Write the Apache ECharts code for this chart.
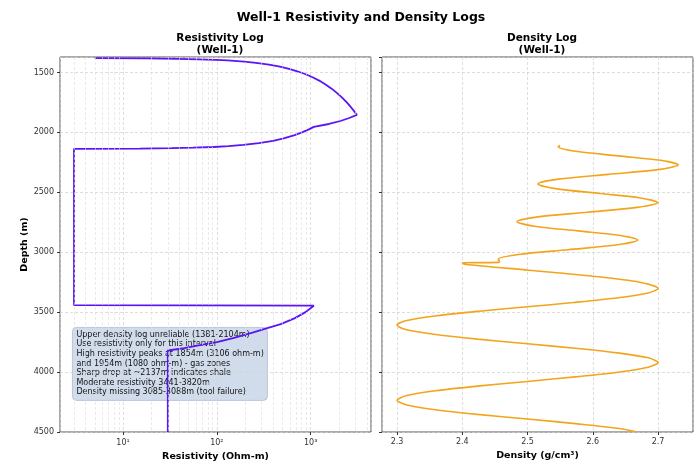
<!DOCTYPE html>
<html>
<head>
<meta charset="utf-8">
<script src="https://cdn.jsdelivr.net/npm/echarts@6/dist/echarts.min.js"></script>
<style>
  html, body { margin: 0; padding: 0; background: #fff; }
  #chart { width: 700px; height: 461px; }
</style>
</head>
<body>
<div id="chart"></div>
<script>
// resistivity log (ohm-m) vs depth (m)
const resDepth = [1381, 1383, 1386, 1390, 1395, 1400, 1410, 1420, 1435, 1450, 1470, 1490, 1515, 1540, 1570, 1600, 1635, 1670, 1710, 1750, 1790, 1825, 1854,
  1880, 1905, 1930, 1954,
  1975, 2000, 2025, 2050, 2070, 2090, 2105, 2115, 2122, 2128, 2132, 2135, 2137,
  3441, 3446, 3500, 3550, 3600, 3633, 3670, 3717, 3750, 3776, 3800, 3820, 4500];
const resValue = [5, 18, 38, 64, 97, 130, 195, 261, 359, 457, 588, 720, 884, 1048, 1245, 1441, 1671, 1900, 2163, 2425, 2687, 2917, 3106,
  2579, 2072, 1566, 1080,
  956, 809, 662, 515, 397, 280, 191, 133, 92, 56, 33, 15, 3,
  3, 1080, 880, 680, 480, 344, 240, 149, 100, 66, 45, 30, 30];

// density log (g/cm3) vs depth (m)
const densDepth = [2110, 2120, 2158, 2196, 2233, 2271, 2311, 2350, 2390, 2430, 2469, 2508, 2547, 2586,
  2626, 2666, 2705, 2745, 2783, 2822, 2860, 2898, 2938, 2979, 3019, 3059, 3075, 3085, 3088,
  3100, 3150, 3200, 3250, 3302, 3340, 3380, 3420, 3455, 3490, 3530, 3570, 3608,
  3647, 3686, 3725, 3764, 3803, 3842, 3881, 3920, 3959, 3999, 4038, 4078, 4117, 4156, 4196, 4235,
  4274, 4314, 4353, 4392, 4432, 4471, 4500];
const densValue = [2.550, 2.547, 2.574, 2.639, 2.704, 2.731, 2.700, 2.624, 2.547, 2.516, 2.543, 2.608, 2.673, 2.700,
  2.668, 2.592, 2.516, 2.484, 2.511, 2.577, 2.642, 2.669, 2.638, 2.562, 2.486, 2.455, 2.457, 2.455, 2.400,
  2.404, 2.502, 2.600, 2.672, 2.700, 2.685, 2.639, 2.570, 2.500, 2.430, 2.361, 2.315, 2.300,
  2.315, 2.359, 2.423, 2.500, 2.577, 2.641, 2.685, 2.700, 2.685, 2.641, 2.577, 2.500, 2.423, 2.359, 2.315, 2.300,
  2.315, 2.359, 2.423, 2.500, 2.577, 2.641, 2.668];

// minor log gridlines (2..9 x 10^n)
const resMinorTicks = [3, 4, 5, 6, 7, 8, 9, 20, 30, 40, 50, 60, 70, 80, 90, 200, 300, 400, 500, 600, 700, 800, 900, 2000, 3000, 4000];
const supDigits = { 0: '⁰', 1: '¹', 2: '²', 3: '³', 4: '⁴' };

const notes = [
  'Upper density log unreliable (1381-2104m)',
  'Use resistivity only for this interval',
  'High resistivity peaks at 1854m (3106 ohm-m)',
  'and 1954m (1080 ohm-m) - gas zones',
  'Sharp drop at ~2137m indicates shale',
  'Moderate resistivity 3441-3820m',
  'Density missing 3085-3088m (tool failure)'
];

const font = 'DejaVu Sans';
const gridLine = { show: true, lineStyle: { color: '#d0d0d0', type: [3, 2], width: 0.7 } };
const tickLabel = { fontFamily: font, fontSize: 8, color: '#333' };

const chart = echarts.init(document.getElementById('chart'));
chart.setOption({
  animation: false,
  backgroundColor: '#fff',
  title: [
    { text: 'Well-1 Resistivity and Density Logs', left: 356, top: 6, textAlign: 'center',
      textStyle: { fontFamily: font, fontSize: 12.5, fontWeight: 'bold', color: '#000' } },
    { text: 'Resistivity Log\n(Well-1)', left: 215, top: 27, textAlign: 'center',
      textStyle: { fontFamily: font, fontSize: 10.5, fontWeight: 'bold', color: '#000', lineHeight: 12.5 } },
    { text: 'Density Log\n(Well-1)', left: 537, top: 27, textAlign: 'center',
      textStyle: { fontFamily: font, fontSize: 10.5, fontWeight: 'bold', color: '#000', lineHeight: 12.5 } }
  ],
  grid: [
    { left: 60, top: 57, width: 311, height: 375, show: true, borderColor: '#555', borderWidth: 1, outerBoundsMode: 'none' },
    { left: 382, top: 57, width: 311, height: 375, show: true, borderColor: '#555', borderWidth: 1, outerBoundsMode: 'none' }
  ],
  xAxis: [
    {
      type: 'log', gridIndex: 0, min: 2.127, max: 4395, splitNumber: 3,
      name: 'Resistivity (Ohm-m)', nameLocation: 'middle', nameGap: 18,
      nameTextStyle: { fontFamily: font, fontSize: 9.5, fontWeight: 'bold', color: '#000' },
      axisLine: { show: false },
      axisTick: { show: true, length: 3, lineStyle: { color: '#333' } },
      axisLabel: Object.assign({}, tickLabel, {
        showMinLabel: false, showMaxLabel: false, margin: 7,
        formatter: function (v) {
          const e = Math.round(Math.log10(v));
          if (Math.abs(Math.log10(v) - e) > 1e-6) return '';
          return '10' + supDigits[e];
        }
      }),
      splitLine: gridLine
    },
    {
      type: 'value', gridIndex: 1, min: 2.277, max: 2.7536, splitNumber: 5,
      name: 'Density (g/cm³)', nameLocation: 'middle', nameGap: 16,
      nameTextStyle: { fontFamily: font, fontSize: 9.5, fontWeight: 'bold', color: '#000' },
      axisLine: { show: false },
      axisTick: { show: true, length: 3, lineStyle: { color: '#333' } },
      axisLabel: Object.assign({}, tickLabel, {
        showMinLabel: false, showMaxLabel: false, margin: 6,
        formatter: function (v) { return v.toFixed(1); }
      }),
      splitLine: gridLine
    }
  ],
  yAxis: [
    {
      type: 'value', gridIndex: 0, inverse: true, min: 1371, max: 4500, splitNumber: 6,
      name: 'Depth (m)', nameLocation: 'middle', nameGap: 30, nameRotate: 90,
      nameTextStyle: { fontFamily: font, fontSize: 9.5, fontWeight: 'bold', color: '#000' },
      axisLine: { show: false },
      axisTick: { show: true, length: 3, lineStyle: { color: '#333' } },
      axisLabel: Object.assign({}, tickLabel, {
        showMinLabel: false, margin: 6,
        formatter: function (v) { return String(v); }
      }),
      splitLine: gridLine
    },
    {
      type: 'value', gridIndex: 1, inverse: true, min: 1371, max: 4500, splitNumber: 6,
      axisLine: { show: false },
      axisTick: { show: true, length: 3, lineStyle: { color: '#333' } },
      axisLabel: { show: false },
      splitLine: gridLine
    }
  ],
  series: [
    {
      name: 'Resistivity', type: 'line', xAxisIndex: 0, yAxisIndex: 0,
      data: resDepth.map((d, i) => [resValue[i], d]),
      showSymbol: false, symbol: 'none', clip: true,
      lineStyle: { color: '#5a14f5', width: 1.8 },
      markLine: {
        silent: true, symbol: 'none', label: { show: false },
        lineStyle: { color: '#dcdcdc', type: [3, 2], width: 0.6 },
        data: resMinorTicks.map(v => ({ xAxis: v }))
      },
      z: 3
    },
    {
      name: 'Density', type: 'line', xAxisIndex: 1, yAxisIndex: 1,
      data: densDepth.map((d, i) => [densValue[i], d]),
      showSymbol: false, symbol: 'none', smooth: 0.3,
      lineStyle: { color: '#f2a51c', width: 1.6 },
      z: 3
    }
  ],
  graphic: [
    {
      type: 'group', left: 72, top: 327,
      children: [
        { type: 'rect', shape: { x: 0, y: 0, width: 195, height: 73, r: 4 },
          style: { fill: 'rgba(176,196,222,0.6)', stroke: 'rgba(150,170,195,0.7)', lineWidth: 0.8 } },
        { type: 'text', x: 4, y: 2.5,
          style: { text: notes.join('\n'), font: '8px "DejaVu Sans"', fill: '#111', lineHeight: 9.6 } }
      ]
    }
  ]
});
</script>
</body>
</html>
